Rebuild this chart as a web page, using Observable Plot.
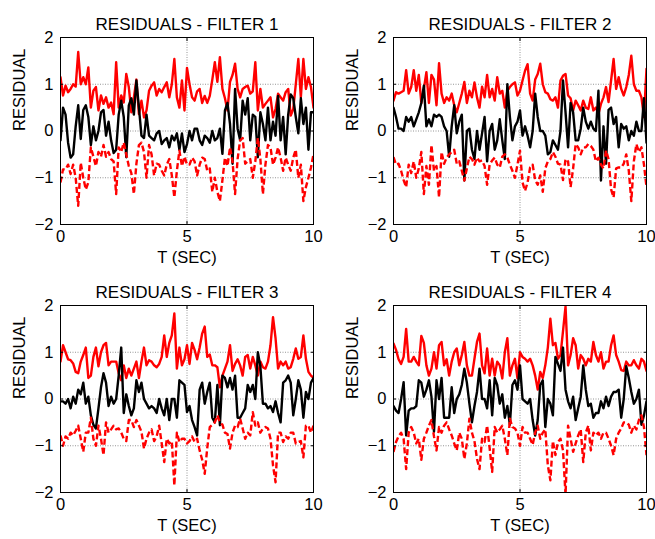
<!DOCTYPE html>
<html><head><meta charset="utf-8">
<script src="https://cdn.jsdelivr.net/npm/d3@7"></script>
<script src="https://cdn.jsdelivr.net/npm/@observablehq/plot@0.6"></script>
<style>
html,body{margin:0;padding:0;background:#fff;}
#fig{position:relative;width:655px;height:539px;overflow:hidden;background:#fff;}
#fig > div{position:absolute;width:322px;height:268px;}
</style></head><body><div id="fig"></div>
<script>
// sample times (s), 0.1 s step
const time = d3.range(101).map(i => +(i / 10).toFixed(1));
const xTicks = [0, 5, 10];
const yTicks = [-2, -1, 0, 1, 2];
const xLabel = "T (SEC)";
const yLabel = "RESIDUAL";
const titles = ["RESIDUALS - FILTER 1", "RESIDUALS - FILTER 2", "RESIDUALS - FILTER 3", "RESIDUALS - FILTER 4"];

const p1Upper = [1.15,0.76,0.97,0.83,0.9,1.0,0.95,1.69,1.0,1.15, 1.0,1.36,0.5,0.86,0.94,0.44,0.76,0.58,0.72,0.5, 0.61,0.36,1.47,0.5,0.76,0.61,1.22,0.94,0.4,0.72, 1.1,0.36,0.65,0.29,0.44,0.86,0.97,1.04,0.76,0.9, 0.83,0.94,1.04,0.72,1.0,1.54,0.72,0.5,1.08,0.44, 1.35,1.0,0.72,0.65,0.85,0.9,0.6,0.75,0.6,0.75, 1.1,1.47,1.05,1.58,0.9,0.7,0.44,1.05,1.2,1.44, 0.9,0.72,0.9,0.94,0.97,0.8,0.85,1.47,0.44,0.9, 0.5,0.58,0.65,0.72,0.29,0.47,0.8,0.72,0.65,0.83, 0.9,0.33,0.47,1.0,1.54,0.72,1.54,0.9,1.15,0.94, 0.5];
const p1Resid = [-0.2,0.5,0.35,-0.25,-0.57,-0.5,0.1,0.55,-0.17,0.45, 0.55,0.3,-0.3,0.1,-0.2,0.0,0.4,0.45,-0.1,0.2, -0.2,-0.47,-0.4,0.35,0.65,0.3,-0.56,0.55,0.7,0.35, 1.08,0.5,-0.1,-0.15,0.35,-0.1,-0.15,-0.2,-0.05,0.0, -0.28,-0.2,-0.15,-0.35,-0.1,-0.2,-0.05,-0.4,-0.05,-0.45, -0.28,0.0,-0.2,0.05,0.05,-0.2,-0.3,-0.1,-0.15,-0.25, 0.0,-0.2,-0.15,0.05,-0.49,0.44,0.6,0.15,-0.7,0.9, 0.05,-0.2,0.65,0.35,0.7,-0.2,0.35,0.3,-0.56,0.4, 0.15,-0.2,0.5,-0.2,0.2,-0.1,0.75,-0.2,0.3,-0.5, 0.35,0.78,0.7,0.3,-0.05,0.7,0.15,0.5,-0.4,0.4, 0.4];
const p1Lower = [-1.1,-0.82,-0.82,-0.72,-0.92,-0.72,-1.0,-1.6,-0.68,-1.0, -1.25,-1.1,-0.35,-0.55,-0.75,-0.45,-0.55,-0.3,-0.55,-0.45, -0.6,-0.65,-1.35,-0.35,-0.45,-0.25,-0.5,-0.75,-0.9,-1.35, -0.7,-0.3,-0.25,-0.45,-1.0,-0.3,-0.5,-0.95,-0.7,-0.72, -0.85,-0.95,-0.72,-0.6,-0.95,-1.42,-0.85,-0.42,-0.75,-0.55, -0.72,-0.72,-0.57,-0.65,-0.95,-0.72,-0.57,-0.6,-0.85,-0.8, -1.3,-1.0,-1.3,-1.5,-1.05,-0.57,-0.75,-0.35,-0.65,-1.35, -0.6,-0.2,-0.15,-0.7,-0.65,-0.6,-1.0,-0.65,-0.15,-0.6, -1.35,-0.72,-0.3,-0.35,-0.72,-0.57,-0.35,-0.57,-0.85,-0.57, -0.72,-0.85,-0.57,-0.4,-1.0,-0.72,-1.5,-1.2,-1.0,-0.78, -0.5];

const p2Upper = [0.65,0.83,0.8,0.83,0.86,1.3,0.8,0.94,1.3,0.86, 1.2,0.6,0.9,1.26,0.6,1.2,1.1,0.55,1.45,0.8, 0.6,0.72,0.65,0.8,0.55,0.4,0.6,0.8,1.05,0.6, 0.86,0.72,1.04,0.72,0.5,0.95,0.72,1.2,0.72,0.9, 0.65,1.15,0.8,0.86,0.5,0.86,0.94,1.0,1.04,0.76, 0.86,1.08,1.29,1.43,0.8,0.65,1.1,1.22,1.44,1.0, 0.83,0.8,0.68,0.65,0.72,0.5,1.08,1.18,1.22,0.76, 0.7,0.44,0.65,0.55,0.44,0.65,0.5,0.47,0.72,0.44, 0.5,0.36,0.58,0.72,0.94,0.62,1.08,1.54,0.9,1.15, 0.9,0.76,0.94,1.2,1.61,1.0,0.86,0.86,0.72,0.3, 1.33];
const p2Resid = [0.5,0.3,0.05,0.05,0.0,0.3,0.2,0.3,0.1,0.25, 0.4,0.6,0.97,0.1,0.25,0.1,0.35,0.3,0.35,0.3, 0.1,0.0,-0.55,0.1,0.55,-0.05,0.2,0.35,-1.06,0.0, 0.05,-0.4,-0.6,0.0,-0.4,-0.05,0.3,-0.65,0.0,0.15, -0.4,-0.2,0.25,-0.2,-0.6,1.0,0.3,-0.2,0.1,0.2, 0.44,-0.1,0.1,-0.1,-0.35,0.0,0.8,0.3,0.0,0.0, -0.1,-0.5,-0.45,-0.2,-0.3,-0.4,0.0,1.08,0.4,-0.35, 0.6,0.4,-0.2,-0.2,0.05,0.5,0.2,0.05,0.2,0.05, 0.0,0.86,-1.06,0.1,-0.7,0.45,0.5,0.15,0.3,-0.35, 0.15,0.05,0.1,-0.2,0.0,-0.1,0.2,0.0,0.0,0.7, -0.25];
const p2Lower = [-0.56,-0.72,-0.7,-0.85,-1.05,-1.2,-0.72,-0.9,-0.65,-1.0, -0.8,-0.45,-1.35,-0.75,-1.15,-0.3,-0.85,-0.75,-1.42,-0.45, -0.7,-0.57,-0.5,-0.45,-0.4,-0.7,-0.65,-0.85,-1.06,-0.8, -0.55,-0.6,-0.72,-0.57,-0.65,-0.63,-0.75,-1.15,-0.72,-0.63, -0.57,-0.72,-0.78,-0.55,-0.5,-0.57,-0.72,-0.85,-1.0,-0.72, -0.42,-1.1,-1.28,-1.1,-0.78,-0.72,-1.05,-1.15,-0.95,-1.3, -0.8,-0.65,-0.6,-0.45,-0.55,-0.7,-0.72,-1.05,-0.6,-0.65, -1.2,-0.8,-0.28,-0.35,-0.5,-0.35,-0.35,-0.28,-0.32,-0.4, -0.65,-0.57,-0.72,-0.8,-0.42,-0.6,-1.25,-1.42,-0.8,-0.78, -0.78,-0.7,-0.5,-0.85,-1.5,-0.65,-0.28,-0.45,-0.35,-0.72, -1.2];

const p3Upper = [0.8,1.15,1.0,0.85,0.83,0.76,0.58,0.55,0.8,0.94, 1.1,0.45,0.5,0.9,1.1,0.7,1.0,1.15,1.2,0.72, 0.8,0.8,0.8,0.55,0.4,0.72,0.45,0.65,0.5,0.65, 0.8,0.45,0.8,1.1,0.72,0.83,0.8,0.72,0.68,0.75, 0.9,1.36,0.9,1.2,1.36,1.83,0.65,1.1,0.72,0.85, 1.15,0.75,1.2,1.05,0.85,1.1,1.4,1.55,0.9,0.95, 0.72,0.72,0.68,0.25,0.5,0.65,0.8,1.15,0.6,0.75, 0.85,0.72,0.5,0.9,0.94,0.65,0.9,0.72,0.5,0.8, 0.68,0.65,0.8,1.15,1.75,1.3,0.65,0.8,0.72,0.8, 0.65,0.68,0.86,1.08,0.86,0.9,1.36,0.86,0.58,0.5, 0.45];
const p3Resid = [-0.05,-0.05,-0.1,0.0,-0.2,0.05,-0.1,0.2,0.1,0.35, -0.1,0.05,-0.35,-0.55,-0.63,-0.2,0.25,0.55,0.35,-0.15, 0.05,-0.1,0.0,0.5,1.1,-0.3,0.1,-0.15,-0.35,-0.2, 0.4,0.15,0.35,0.0,-0.1,-0.2,-0.15,-0.2,-0.3,0.0, -0.2,-0.35,0.0,-0.45,0.0,0.0,-0.4,0.4,0.35,0.3, -0.28,-0.15,-0.45,-0.6,-0.78,0.2,0.35,-0.1,0.15,0.35, -0.4,-0.5,0.3,-0.56,0.5,0.45,0.25,0.45,0.2,0.5, -0.4,-0.4,-0.3,-0.2,0.3,0.15,0.3,0.0,1.0,0.7, -0.1,-0.1,-0.2,-0.15,-0.28,-0.05,-0.3,-0.5,0.35,0.4, 0.5,0.35,-0.35,0.0,0.4,0.2,-0.4,0.15,0.0,0.35, 0.45];
const p3Lower = [-0.78,-1.0,-0.8,-0.85,-0.72,-0.78,-0.68,-0.57,-0.85,-1.13, -0.72,-0.72,-0.4,-0.85,-1.0,-0.57,-0.85,-1.2,-0.5,-0.72, -0.65,-0.57,-0.65,-0.63,-0.72,-0.85,-0.9,-0.45,-0.45,-0.6, -0.45,-0.57,-0.7,-1.06,-0.85,-0.72,-0.65,-0.9,-0.8,-0.57, -0.95,-1.35,-0.85,-0.95,-0.9,-1.85,-0.72,-0.92,-0.85,-0.85, -0.95,-0.9,-0.8,-0.92,-0.85,-1.1,-1.3,-1.6,-1.05,-0.6, -0.55,-0.5,-0.35,-0.5,-0.55,-0.72,-0.75,-1.06,-0.72,-0.57, -0.6,-0.42,-0.63,-0.85,-0.72,-0.78,-0.28,-0.57,-0.5,-0.72, -0.63,-0.6,-0.63,-0.85,-1.42,-1.78,-0.72,-0.72,-0.92,-0.8, -0.85,-0.72,-0.72,-0.95,-0.92,-0.9,-1.25,-0.57,-0.57,-0.72, -0.57];

const p4Upper = [1.19,1.05,0.85,0.75,0.9,1.5,0.8,0.8,0.9,0.8, 0.72,1.35,1.2,0.72,0.5,0.65,1.0,0.65,1.15,1.22, 0.72,0.85,0.5,0.8,1.0,1.08,0.72,0.94,1.22,0.72, 0.5,0.5,0.86,1.22,1.4,0.72,0.55,1.08,0.5,0.86, 0.5,0.8,0.72,0.44,1.0,1.3,0.5,0.72,0.86,0.44, 1.0,0.9,0.86,0.8,0.86,0.72,0.5,0.2,0.58,0.45, 0.72,1.1,1.72,1.15,1.2,0.86,0.94,1.45,1.98,0.72, 0.94,1.3,1.15,0.65,0.94,0.86,0.72,0.86,0.8,1.22, 0.94,0.8,1.0,0.65,0.8,0.8,1.15,1.36,0.94,0.8, 0.62,0.6,0.8,0.72,0.72,0.83,0.72,0.65,0.86,0.8, 0.6];
const p4Resid = [-0.15,-0.25,-0.3,0.0,0.36,-0.78,-0.25,-0.2,-0.2,-0.15, 0.4,0.35,0.05,0.2,0.4,0.05,-0.7,0.4,0.0,0.45, -0.4,-0.4,-0.4,0.25,-0.3,0.0,0.1,0.3,0.65,0.35, -0.1,-0.5,-0.15,0.15,0.65,0.0,0.0,-0.2,0.4,-0.35, 0.45,0.3,-0.1,0.1,-0.4,-0.15,-0.55,0.3,0.4,0.2, 0.72,0.0,-0.05,-0.1,0.0,-0.45,-0.78,-0.45,0.3,0.4, -0.6,0.0,-0.1,-0.35,0.9,0.75,0.6,1.1,0.2,-0.05, -0.2,0.05,-0.45,-0.2,0.05,0.72,0.2,-0.15,-0.1,-0.4, -0.3,-0.3,-0.05,-0.2,0.05,-0.15,0.05,0.15,0.15,0.2, -0.4,0.0,0.7,0.45,0.15,-0.1,0.0,0.2,-0.55,-0.35, -0.05];
const p4Lower = [-1.13,-0.92,-0.8,-0.72,-0.85,-1.5,-0.72,-0.6,-0.72,-0.95, -0.85,-1.3,-0.85,-0.72,-0.57,-0.45,-0.8,-1.1,-0.6,-0.72, -0.57,-0.5,-0.65,-0.78,-0.95,-1.1,-0.72,-0.85,-1.28,-0.95, -0.42,-0.72,-0.9,-1.28,-1.5,-0.85,-0.92,-0.57,-1.05,-1.56, -0.6,-0.72,-0.65,-0.57,-0.85,-1.2,-0.42,-0.6,-0.63,-0.72, -1.0,-0.6,-0.72,-0.72,-0.85,-0.98,-0.72,-0.57,-0.85,-0.72, -0.65,-1.42,-1.74,-0.9,-1.2,-0.92,-0.85,-1.1,-2.05,-0.57, -0.85,-1.13,-0.95,-0.78,-0.65,-1.35,-0.72,-0.57,-1.1,-0.72, -0.78,-0.72,-0.85,-0.72,-0.72,-0.85,-1.0,-1.2,-0.85,-0.72, -0.63,-0.5,-0.5,-0.55,-0.72,-0.57,-0.65,-0.45,-0.35,-0.6, -1.2];

const panels = [
  {title: titles[0], upper: p1Upper, resid: p1Resid, lower: p1Lower, left: 0, top: 0},
  {title: titles[1], upper: p2Upper, resid: p2Resid, lower: p2Lower, left: 333, top: 0},
  {title: titles[2], upper: p3Upper, resid: p3Resid, lower: p3Lower, left: 0, top: 268},
  {title: titles[3], upper: p4Upper, resid: p4Resid, lower: p4Lower, left: 333, top: 268}
];

const font = "'Liberation Sans', Arial, Helvetica, sans-serif";
const fig = document.getElementById("fig");

for (const p of panels) {
  const X = (d, i) => time[i];
  const Y = d => d;
  const chart = Plot.plot({
    width: 322, height: 268,
    marginLeft: 60, marginRight: 9, marginTop: 37, marginBottom: 44,
    style: {fontFamily: font, fontSize: "16.5px", color: "black", background: "white", overflow: "visible"},
    x: {domain: [0, 10]},
    y: {domain: [-2, 2]},
    marks: [
      Plot.gridX(xTicks, {stroke: "#7a7a7a", strokeOpacity: 1, strokeWidth: 0.8, strokeDasharray: "1,1.5"}),
      Plot.gridY(yTicks, {stroke: "#7a7a7a", strokeOpacity: 1, strokeWidth: 0.8, strokeDasharray: "1,1.5"}),
      Plot.line(p.upper, {x: X, y: Y, stroke: "#ff0000", strokeWidth: 2.4, clip: true}),
      Plot.line(p.resid, {x: X, y: Y, stroke: "#000000", strokeWidth: 2.4, clip: true}),
      Plot.line(p.lower, {x: X, y: Y, stroke: "#ff0000", strokeWidth: 2.4, strokeDasharray: "6,3", strokeLinecap: "butt", clip: true}),
      Plot.frame({stroke: "black", strokeWidth: 1}),
      Plot.axisX(xTicks, {anchor: "bottom", tickSize: -3, tickPadding: 9, label: null}),
      Plot.axisX(xTicks, {anchor: "top", tickSize: -3, tickFormat: () => "", label: null}),
      Plot.axisY(yTicks, {anchor: "left", tickSize: -3, tickPadding: 10, label: null}),
      Plot.axisY(yTicks, {anchor: "right", tickSize: -3, tickFormat: () => "", label: null}),
      Plot.text([p.title], {frameAnchor: "top", dy: -20, fontSize: 17, fill: "black"}),
      Plot.text([xLabel], {frameAnchor: "bottom", dy: 38, fill: "black"}),
      Plot.text([yLabel], {frameAnchor: "left", dx: -41, rotate: -90, fill: "black"})
    ]
  });
  const holder = document.createElement("div");
  holder.style.left = p.left + "px";
  holder.style.top = p.top + "px";
  holder.appendChild(chart);
  fig.appendChild(holder);
}
</script>
</body></html>
